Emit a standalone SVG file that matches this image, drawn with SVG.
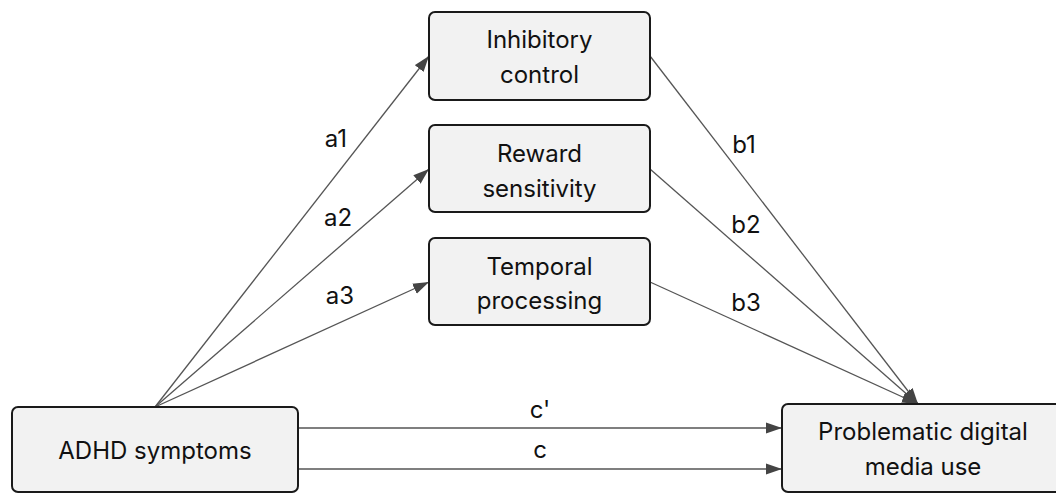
<svg xmlns="http://www.w3.org/2000/svg" width="1056" height="494" viewBox="0 0 1056 494">
<style>
.box{fill:#f2f2f2;stroke:#1a1a1a;stroke-width:2}
.t{font-family:Inter,"Liberation Sans",sans-serif;font-size:24px;fill:#111;text-anchor:middle}
.e{fill:none;stroke:#555;stroke-width:1.3}
</style>
<defs>
<marker id="ah" markerUnits="userSpaceOnUse" markerWidth="17" markerHeight="12" refX="16" refY="6" orient="auto">
<path d="M0,0.5 L16,6 L0,11.5 z" fill="#444"/>
</marker>
</defs>
<rect width="1056" height="494" fill="#fff"/>
<g id="connectors">
<path class="e" d="M155,407 L429,56" marker-end="url(#ah)"/>
<path class="e" d="M155,407 L429,169" marker-end="url(#ah)"/>
<path class="e" d="M155,407 L429,282" marker-end="url(#ah)"/>
<path class="e" d="M650,56 L918,404" marker-end="url(#ah)"/>
<path class="e" d="M650,169 L918,404" marker-end="url(#ah)"/>
<path class="e" d="M650,282 L918,404" marker-end="url(#ah)"/>
<path class="e" d="M298,428 L782,428" marker-end="url(#ah)"/>
<path class="e" d="M298,469 L782,469" marker-end="url(#ah)"/>
<text class="t" x="336" y="147">a1</text>
<text class="t" x="338" y="226">a2</text>
<text class="t" x="340" y="304">a3</text>
<text class="t" x="744" y="153">b1</text>
<text class="t" x="746" y="233">b2</text>
<text class="t" x="746" y="311">b3</text>
<text class="t" x="540" y="418">c'</text>
<text class="t" x="540" y="458">c</text>
</g>
<g id="inhibitory">
<rect class="box" x="429" y="12" width="221" height="88" rx="6"/>
<text class="t" x="539.5" y="48">Inhibitory</text>
<text class="t" x="539.5" y="83">control</text>
</g>
<g id="reward">
<rect class="box" x="429" y="125" width="221" height="87" rx="6"/>
<text class="t" x="539.5" y="162">Reward</text>
<text class="t" x="539.5" y="197">sensitivity</text>
</g>
<g id="temporal">
<rect class="box" x="429" y="238" width="221" height="87" rx="6"/>
<text class="t" x="539.5" y="275">Temporal</text>
<text class="t" x="539.5" y="309">processing</text>
</g>
<g id="adhd">
<rect class="box" x="12" y="407" width="286" height="85" rx="6"/>
<text class="t" x="155" y="459">ADHD symptoms</text>
</g>
<g id="pdmu">
<rect class="box" x="782" y="404" width="282" height="88" rx="6"/>
<text class="t" x="923" y="440">Problematic digital</text>
<text class="t" x="923" y="475">media use</text>
</g>
</svg>
